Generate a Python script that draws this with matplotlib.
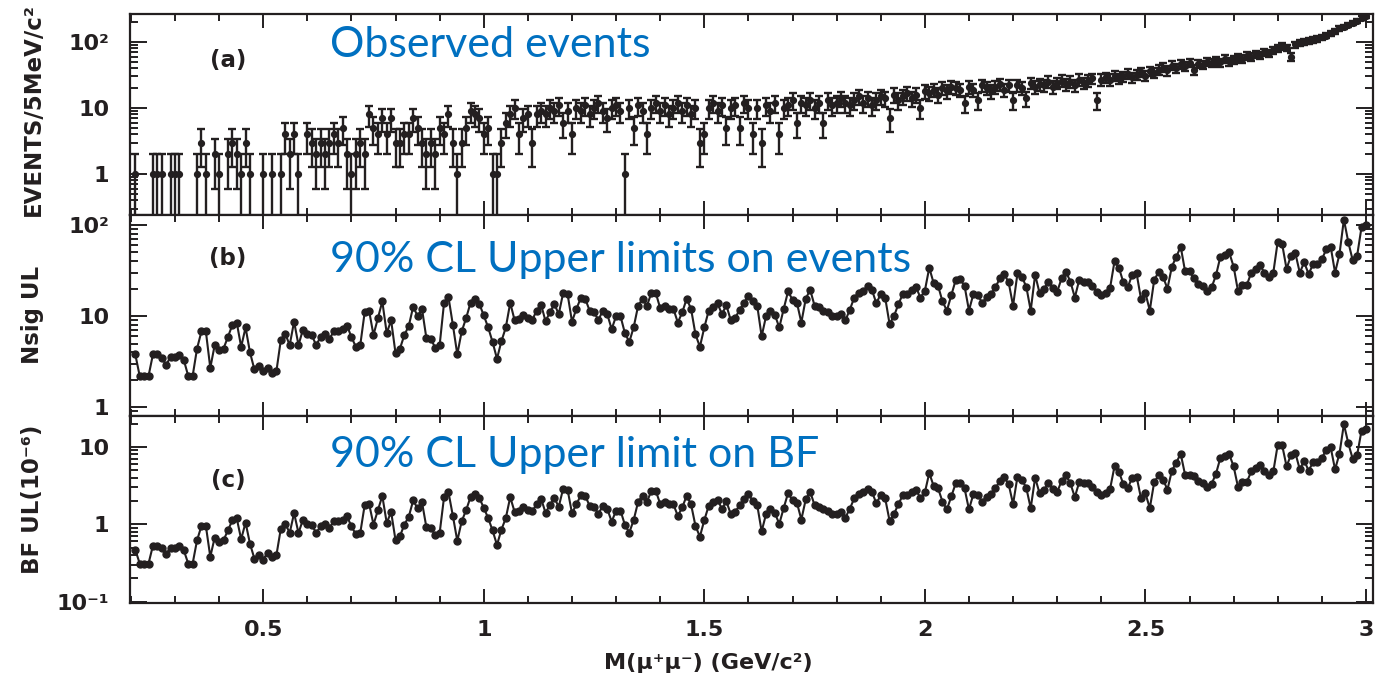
import numpy as np
import matplotlib
matplotlib.use("Agg")
import matplotlib.pyplot as plt
from matplotlib.ticker import MultipleLocator, LogLocator, NullFormatter, FuncFormatter

# dimuon mass, 10 MeV steps (GeV/c^2)
mass = np.linspace(0.21, 3.00, 280)

# (a) observed events per bin
events = [
    1, 0, 0, 0, 1, 1, 1, 0, 1, 1,
    1, 0, 0, 0, 1, 3, 1, 0, 2, 1,
    0, 2, 3, 2, 1, 3, 1, 0, 0, 1,
    0, 1, 0, 1, 4, 2, 4, 1, 0, 4,
    3, 2, 3, 2, 3, 4, 3, 5, 2, 1,
    2, 3, 2, 8, 5, 4, 7, 4, 7, 3,
    3, 4, 4, 7, 5, 3, 2, 3, 2, 5,
    4, 8, 3, 1, 3, 5, 9, 8, 7, 4,
    5, 1, 1, 3, 6, 8, 10, 4, 7, 8,
    3, 8, 9, 8, 10, 9, 11, 6, 9, 4,
    10, 9, 11, 8, 10, 12, 9, 7, 10, 11,
    9, 1, 10, 5, 11, 9, 4, 10, 12, 9,
    11, 8, 10, 12, 9, 11, 8, 10, 3, 4,
    10, 12, 9, 11, 5, 10, 11, 5, 12, 10,
    4, 10, 3, 11, 9, 12, 4, 10, 11, 13,
    6, 12, 11, 13, 10, 12, 6, 13, 11, 12,
    14, 12, 11, 13, 15, 12, 14, 11, 13, 15,
    14, 7, 16, 13, 15, 17, 14, 16, 10, 18,
    17, 19, 16, 20, 18, 21, 20, 19, 12, 21,
    19, 13, 22, 20, 18, 21, 23, 19, 22, 13,
    22, 20, 14, 24, 21, 23, 22, 25, 21, 24,
    26, 23, 25, 22, 27, 24, 26, 28, 13, 27,
    29, 27, 31, 28, 30, 33, 29, 32, 35, 31,
    36, 34, 38, 41, 37, 44, 40, 46, 43, 48,
    38, 47, 45, 50, 48, 52, 49, 55, 51, 54,
    58, 55, 62, 60, 66, 63, 70, 68, 75, 80,
    86, 82, 60, 92, 96, 100, 104, 108, 112, 118,
    125, 135, 145, 160, 170, 180, 195, 210, 230, 250,
]

# (b) 90% CL upper limit on signal events
nsig_ul = [
    3.8, 2.2, 2.2, 2.2, 3.8, 3.8, 3.5, 2.9, 3.6, 3.6,
    3.7, 3.3, 2.2, 2.2, 4.4, 6.8, 6.8, 2.7, 4.8, 4.2,
    4.4, 5.9, 8.0, 8.5, 4.6, 7.5, 4.0, 2.6, 2.85, 2.5,
    2.7, 2.35, 2.5, 5.5, 6.4, 4.8, 8.7, 4.8, 7.1, 6.4,
    6.2, 4.8, 5.9, 6.4, 5.6, 6.8, 6.8, 7.2, 7.85, 5.9,
    4.6, 4.8, 11.0, 11.5, 6.2, 9.5, 14.5, 6.5, 9.0, 3.9,
    4.4, 6.2, 7.8, 12.7, 10.0, 12.0, 5.7, 5.6, 4.5, 4.8,
    14.0, 16.2, 8.0, 3.8, 6.8, 9.5, 14.0, 15.5, 13.6, 10.2,
    7.5, 5.2, 3.4, 5.3, 7.5, 14.0, 9.0, 9.2, 10.3, 9.5,
    9.1, 11.5, 13.4, 8.8, 11.0, 13.6, 10.5, 18.0, 17.5, 8.7,
    12.0, 15.8, 15.5, 11.5, 11.0, 9.1, 11.5, 10.5, 7.2, 10.0,
    10.0, 6.5, 5.2, 7.6, 13.0, 15.5, 13.0, 18.0, 18.0, 12.2,
    13.0, 12.0, 12.0, 8.5, 11.0, 15.5, 12.0, 6.3, 4.6, 7.5,
    11.5, 12.7, 13.8, 10.5, 13.2, 9.0, 9.5, 11.8, 14.0, 16.5,
    14.7, 13.0, 6.0, 10.0, 11.5, 10.3, 7.5, 12.0, 18.8, 15.0,
    14.0, 8.5, 15.5, 19.5, 13.0, 12.5, 11.5, 11.0, 10.0, 10.0,
    10.5, 9.0, 11.8, 16.0, 18.0, 19.0, 21.2, 19.5, 13.8, 17.5,
    16.0, 8.2, 10.0, 13.5, 17.5, 17.5, 19.2, 20.7, 16.0, 19.0,
    34.0, 23.0, 21.5, 14.5, 11.5, 17.0, 25.0, 25.5, 21.5, 11.5,
    17.5, 17.0, 14.0, 16.2, 17.5, 20.7, 26.0, 29.0, 23.5, 13.0,
    29.5, 27.0, 21.0, 11.5, 28.5, 18.0, 19.7, 24.0, 20.5, 18.5,
    26.0, 30.5, 24.0, 16.0, 25.0, 24.0, 24.0, 21.5, 18.5, 17.0,
    18.0, 20.5, 40.0, 34.0, 23.5, 20.7, 28.5, 29.5, 15.5, 18.0,
    11.5, 25.0, 30.5, 27.0, 20.0, 35.0, 44.7, 58.0, 31.0, 31.0,
    26.0, 22.7, 21.2, 19.0, 20.7, 28.0, 45.0, 47.0, 50.0, 35.0,
    18.8, 22.0, 22.0, 30.0, 33.0, 36.0, 30.0, 27.0, 30.0, 66.0,
    62.0, 33.0, 46.0, 49.0, 30.0, 39.0, 29.0, 37.0, 37.0, 42.0,
    54.0, 58.0, 30.0, 48.0, 115.0, 65.0, 41.0, 46.0, 95.0, 100.0,
]

# (c) 90% CL upper limit on branching fraction (1e-6)
bf_ul = [
    0.47, 0.31, 0.31, 0.31, 0.53, 0.53, 0.49, 0.41, 0.50, 0.50,
    0.52, 0.46, 0.31, 0.31, 0.62, 0.95, 0.95, 0.38, 0.67, 0.59,
    0.62, 0.83, 1.12, 1.19, 0.64, 1.05, 0.56, 0.36, 0.40, 0.35,
    0.43, 0.38, 0.40, 0.88, 1.02, 0.77, 1.39, 0.77, 1.14, 1.02,
    0.99, 0.77, 0.94, 1.02, 0.90, 1.09, 1.09, 1.15, 1.26, 0.94,
    0.74, 0.77, 1.76, 1.84, 0.99, 1.52, 2.32, 1.04, 1.44, 0.62,
    0.70, 0.99, 1.25, 2.03, 1.60, 1.92, 0.91, 0.90, 0.72, 0.77,
    2.24, 2.59, 1.28, 0.61, 1.09, 1.52, 2.24, 2.48, 2.18, 1.63,
    1.20, 0.83, 0.54, 0.85, 1.20, 2.24, 1.44, 1.47, 1.65, 1.52,
    1.46, 1.84, 2.14, 1.41, 1.76, 2.18, 1.68, 2.88, 2.80, 1.39,
    1.80, 2.37, 2.33, 1.73, 1.65, 1.37, 1.73, 1.58, 1.08, 1.50,
    1.50, 0.98, 0.78, 1.14, 1.95, 2.33, 1.95, 2.70, 2.70, 1.83,
    1.95, 1.80, 1.80, 1.28, 1.65, 2.33, 1.80, 0.95, 0.69, 1.13,
    1.73, 1.91, 2.07, 1.58, 1.98, 1.35, 1.43, 1.77, 2.10, 2.48,
    1.98, 1.76, 0.81, 1.35, 1.55, 1.39, 1.01, 1.62, 2.54, 2.03,
    1.89, 1.15, 2.09, 2.63, 1.76, 1.69, 1.55, 1.49, 1.35, 1.35,
    1.42, 1.22, 1.59, 2.16, 2.43, 2.57, 2.86, 2.63, 1.86, 2.36,
    2.16, 1.11, 1.35, 1.82, 2.36, 2.36, 2.59, 2.79, 2.16, 2.57,
    4.59, 3.11, 2.90, 1.96, 1.55, 2.30, 3.38, 3.44, 2.90, 1.55,
    2.45, 2.38, 1.96, 2.27, 2.45, 2.90, 3.64, 4.06, 3.29, 1.82,
    4.13, 3.78, 2.94, 1.61, 3.99, 2.52, 2.76, 3.36, 2.87, 2.59,
    3.64, 4.27, 3.36, 2.24, 3.50, 3.36, 3.36, 3.01, 2.59, 2.38,
    2.52, 2.87, 5.60, 4.76, 3.29, 2.90, 3.99, 4.13, 2.17, 2.52,
    1.61, 3.50, 4.27, 3.78, 2.80, 4.90, 6.26, 8.12, 4.34, 4.34,
    4.16, 3.63, 3.39, 3.04, 3.31, 4.48, 7.20, 7.52, 8.00, 5.60,
    3.01, 3.52, 3.52, 4.80, 5.28, 5.76, 4.80, 4.32, 4.80, 10.6,
    10.5, 5.61, 7.82, 8.33, 5.10, 6.63, 4.93, 6.29, 6.29, 7.14,
    9.18, 9.86, 5.10, 8.16, 19.6, 11.1, 6.97, 7.82, 16.2, 17.0,
]

ink = "#231f20"
blue = "#0070C0"
plt.rcParams["font.family"] = "DejaVu Sans"
plt.rcParams["font.weight"] = "bold"

W, H = 1379, 681
fig = plt.figure(figsize=(W / 100, H / 100), dpi=100)

def box(top, bottom):
    # pixel rows -> figure fraction
    return [130 / W, 1 - bottom / H, (1373 - 130) / W, (bottom - top) / H]

axa = fig.add_axes(box(14, 215))
axb = fig.add_axes(box(215, 416))
axc = fig.add_axes(box(416, 603))

ev = np.array(events, dtype=float)
keep = ev > 0
axa.errorbar(mass[keep], ev[keep], yerr=np.sqrt(ev[keep]), fmt="o", ms=4.2,
             color=ink, ecolor=ink, elinewidth=1.7, capsize=3.0, capthick=1.7)
axb.plot(mass, nsig_ul, "-o", color=ink, lw=1.5, ms=5)
axc.plot(mass, bf_ul, "-o", color=ink, lw=1.5, ms=5)

ylims = [(0.24, 265), (0.8, 129), (0.096, 25)]
yticks = [([1, 10, 100], ["1", "10", "10²"]),
          ([1, 10, 100], ["1", "10", "10²"]),
          ([0.1, 1, 10], ["10⁻¹", "1", "10"])]

for ax, lim, (tv, tl) in zip([axa, axb, axc], ylims, yticks):
    ax.set_yscale("log")
    ax.set_xlim(0.198, 3.016)
    ax.set_ylim(*lim)
    ax.xaxis.set_major_locator(MultipleLocator(0.5))
    ax.xaxis.set_minor_locator(MultipleLocator(0.1))
    ax.set_yticks(tv)
    ax.set_yticklabels(tl)
    ax.yaxis.set_minor_locator(LogLocator(10, subs=np.arange(2, 10)))
    ax.yaxis.set_minor_formatter(NullFormatter())
    ax.tick_params(which="both", direction="in", top=True, right=True,
                   width=1.4, color=ink, labelcolor=ink, labelsize=16)
    ax.tick_params(axis="x", which="major", length=10)
    ax.tick_params(axis="x", which="minor", length=5)
    ax.tick_params(axis="y", which="major", length=12, pad=15)
    ax.tick_params(axis="y", which="minor", length=6)
    for s in ax.spines.values():
        s.set_linewidth(1.6)
        s.set_color(ink)

axa.tick_params(labelbottom=False)
axb.tick_params(labelbottom=False)
axc.xaxis.set_major_formatter(FuncFormatter(lambda v, p: f"{v:g}"))
axc.tick_params(axis="x", which="major", pad=12)

# panel tags
for lab, yc in [("(a)", 60), ("(b)", 258), ("(c)", 481)]:
    fig.text(228 / W, 1 - yc / H, lab, ha="center", va="center",
             fontsize=16.5, color=ink)

# axis titles
fig.text(33 / W, 1 - 110 / H, "EVENTS/5MeV/c²", rotation=90,
         ha="center", va="center", fontsize=16.5, color=ink)
fig.text(33 / W, 1 - 315 / H, "Nsig UL", rotation=90,
         ha="center", va="center", fontsize=16.5, color=ink)
fig.text(33 / W, 1 - 499 / H, "BF UL(10⁻⁶)", rotation=90,
         ha="center", va="center", fontsize=16.5, color=ink)
fig.text(708 / W, 1 - 663 / H, "M(μ⁺μ⁻) (GeV/c²)", ha="center",
         va="center", fontsize=16, color=ink)

# slide annotations
for txt, base in [("Observed events", 57),
                  ("90% CL Upper limits on events", 272),
                  ("90% CL Upper limit on BF", 467)]:
    fig.text(330 / W, 1 - base / H, txt, family="Lato", fontweight="normal",
             fontsize=31, color=blue, va="baseline", ha="left")

fig.savefig("out.png", dpi=100)
